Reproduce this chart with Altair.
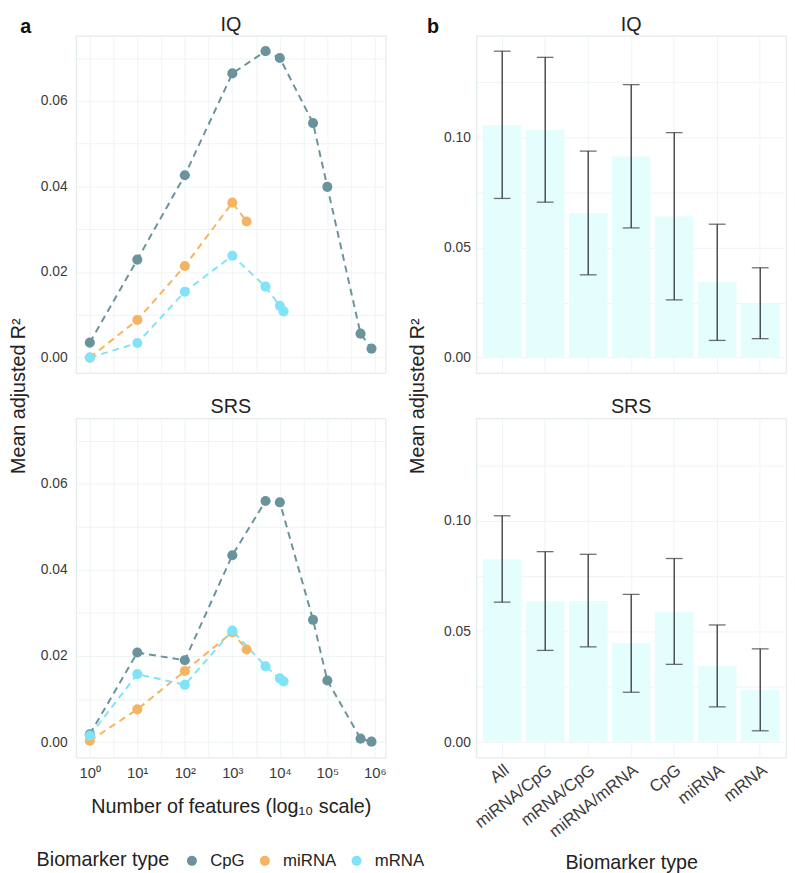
import altair as alt
import pandas as pd

FONT = "Liberation Sans"

# ---------------- panel a data ----------------
cpg_features = [1, 10, 100, 1000, 5000, 10000, 50000, 100000, 500000, 850000]
cpg_iq = [0.0035, 0.0229, 0.0426, 0.0664, 0.0716, 0.0700, 0.0548, 0.0399, 0.0056, 0.0021]
cpg_srs = [0.0018, 0.0208, 0.0190, 0.0434, 0.0560, 0.0557, 0.0284, 0.0143, 0.0008, 0.0001]

mirna_features = [1, 10, 100, 1000, 2000]
mirna_iq = [0.0000, 0.0088, 0.0214, 0.0362, 0.0318]
mirna_srs = [0.0003, 0.0076, 0.0165, 0.0255, 0.0215]

mrna_features = [1, 10, 100, 1000, 5000, 10000, 12000]
mrna_iq = [0.0000, 0.0034, 0.0154, 0.0238, 0.0166, 0.0121, 0.0108]
mrna_srs = [0.0015, 0.0158, 0.0133, 0.0259, 0.0176, 0.0148, 0.0141]

types = ["CpG", "miRNA", "mRNA"]
type_colors = ["#6A939B", "#F5B461", "#80E3F8"]

# ---------------- panel b data ----------------
combos = ["All", "miRNA/CpG", "mRNA/CpG", "miRNA/mRNA", "CpG", "miRNA", "mRNA"]
iq_mean = [0.1056, 0.1034, 0.0656, 0.0914, 0.0641, 0.0343, 0.0246]
iq_lo = [0.0723, 0.0706, 0.0376, 0.0589, 0.0262, 0.0078, 0.0086]
iq_hi = [0.1392, 0.1364, 0.0938, 0.1240, 0.1022, 0.0606, 0.0408]
srs_mean = [0.0826, 0.0636, 0.0637, 0.0446, 0.0589, 0.0344, 0.0235]
srs_lo = [0.0632, 0.0414, 0.0430, 0.0225, 0.0351, 0.0159, 0.0051]
srs_hi = [0.1022, 0.0860, 0.0848, 0.0667, 0.0829, 0.0529, 0.0421]

panels = ["IQ", "SRS"]
letters = ["a", "b"]

# ---------------- tables ----------------
rows = []
for panel, series in [
    ("IQ", [(cpg_features, cpg_iq, "CpG"), (mirna_features, mirna_iq, "miRNA"), (mrna_features, mrna_iq, "mRNA")]),
    ("SRS", [(cpg_features, cpg_srs, "CpG"), (mirna_features, mirna_srs, "miRNA"), (mrna_features, mrna_srs, "mRNA")]),
]:
    for feats, vals, t in series:
        for f, v in zip(feats, vals):
            rows.append({"panel": panel, "features": f, "r2": v, "type": t})
line_df = pd.DataFrame(rows)

bar_df = pd.concat([
    pd.DataFrame({"panel": "IQ", "combo": combos, "mean": iq_mean, "lo": iq_lo, "hi": iq_hi}),
    pd.DataFrame({"panel": "SRS", "combo": combos, "mean": srs_mean, "lo": srs_lo, "hi": srs_hi}),
])

W = 314
H_TOP, H_BOT = 342, 344
GRID = "#EEF4F4"

x_vals = [10 ** (k / 2) for k in range(0, 13)]
x_label_expr = (
    "abs(log(datum.value)/LN10 - round(log(datum.value)/LN10)) < 0.01 ? "
    "'10' + substring('\u2070\u00b9\u00b2\u00b3\u2074\u2075\u2076', round(log(datum.value)/LN10), round(log(datum.value)/LN10)+1) : ''"
)


def text_layer(label, dx, dy, bold):
    return alt.Chart(pd.DataFrame({"t": [label]})).mark_text(
        font=FONT, fontSize=20, fontWeight="bold" if bold else "normal",
        color="#111" if bold else "#222", align="center", baseline="top"
    ).encode(text="t:N", x=alt.value(dx), y=alt.value(dy))


def left_panel(panel, top):
    d = line_df[line_df.panel == panel]
    base = alt.Chart(d)
    x = alt.X(
        "features:Q",
        scale=alt.Scale(type="log", domain=[0.513, 1.69e6], nice=False),
        axis=alt.Axis(
            values=x_vals, labelExpr=x_label_expr, labels=not top, labelOverlap=False,
            title="" if top else "Number of features (log\u2081\u2080 scale)",
            labelFontSize=15, labelPadding=8, titlePadding=17,
        ),
    )
    yaxis = dict(
        values=[i / 100 for i in range(0, 8)],
        labelExpr="round(datum.value*1000) % 20 == 0 ? format(datum.value, '.2f') : ''",
        labelPadding=9, titlePadding=12,
    )
    if top:
        yaxis.update(title="Mean adjusted R\u00b2", titleY=365)
    else:
        yaxis.update(title="")
    y = alt.Y("r2:Q", scale=alt.Scale(domain=[-0.0036, 0.0752], nice=False, zero=False), axis=alt.Axis(**yaxis))
    color = alt.Color(
        "type:N",
        scale=alt.Scale(domain=types, range=type_colors),
        legend=alt.Legend(
            orient="none", legendX=-40, legendY=828, direction="horizontal", titleOrient="left",
            title="Biomarker type", titleFontSize=20, labelFontSize=17, symbolSize=75,
            symbolType="circle", titlePadding=14, labelOffset=10, columnPadding=12,
            titleFont=FONT, labelFont=FONT, titleFontWeight="normal", titleColor="#222",
            labelColor="#222", titleBaseline="middle",
        ),
    )
    lines = base.mark_line(strokeDash=[7, 5], strokeWidth=2).encode(x=x, y=y, color=color)
    pts = base.mark_circle(size=105, opacity=1).encode(x=x, y=y, color=color)
    layers = [lines, pts, text_layer(panel, W / 2, -21, False)]
    if top:
        layers.append(text_layer(letters[0], -51, -19, True))
    return alt.layer(*layers).properties(width=W, height=H_TOP if top else H_BOT)


def right_panel(panel, top):
    d = bar_df[bar_df.panel == panel]
    base = alt.Chart(d)
    x = alt.X(
        "combo:N", sort=combos,
        scale=alt.Scale(paddingInner=0.1, paddingOuter=0.15),
        axis=alt.Axis(
            labels=not top, labelAngle=322, title="" if top else "Biomarker type",
            labelFontSize=17, labelPadding=4, titlePadding=13, bandPosition=0.5,
        ),
    )
    yaxis = dict(
        values=[i * 0.025 for i in range(0, 6)],
        labelExpr="round(datum.value*1000) % 50 == 0 ? format(datum.value, '.2f') : ''",
        labelPadding=6, titlePadding=16,
    )
    if top:
        yaxis.update(title="Mean adjusted R\u00b2", titleY=365)
    else:
        yaxis.update(title="")
    yscale = alt.Scale(domain=[-0.007, 0.1462], nice=False, zero=False)
    y = alt.Y("mean:Q", scale=yscale, axis=alt.Axis(**yaxis))
    bars = base.mark_bar(color="#E4FDFD").encode(x=x, y=y)
    rule = base.mark_rule(color="#333333", strokeWidth=1.3).encode(
        x=x, y=alt.Y("lo:Q", scale=yscale), y2="hi:Q"
    )
    cap_lo = base.mark_tick(color="#333333", size=17, thickness=1.3).encode(x=x, y=alt.Y("lo:Q", scale=yscale))
    cap_hi = base.mark_tick(color="#333333", size=17, thickness=1.3).encode(x=x, y=alt.Y("hi:Q", scale=yscale))
    layers = [bars, rule, cap_lo, cap_hi, text_layer(panel, W / 2, -21, False)]
    if top:
        layers.append(text_layer(letters[1], -44, -19, True))
    return alt.layer(*layers).properties(width=W, height=H_TOP if top else H_BOT)


left = alt.vconcat(left_panel("IQ", True), left_panel("SRS", False), spacing=46, bounds="flush")
right = alt.vconcat(right_panel("IQ", True), right_panel("SRS", False), spacing=46, bounds="flush")

chart = alt.hconcat(left, right, spacing=20).properties(
    padding={"left": 0, "top": 0, "right": 0, "bottom": 0}
).configure_view(
    stroke="#E3EBEB", strokeWidth=1.2
).configure_axis(
    domain=False, ticks=False, grid=True, gridColor=GRID, gridWidth=1,
    labelFont=FONT, labelFontSize=14, labelColor="#3A3A3A",
    titleFont=FONT, titleFontSize=20, titleFontWeight="normal", titleColor="#222",
)

chart.save("out.html", embed_options={"renderer": "svg", "actions": False})
